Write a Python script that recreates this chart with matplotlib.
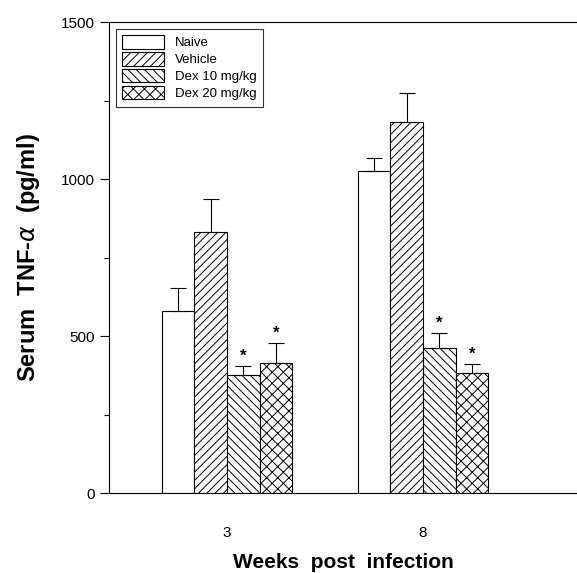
import matplotlib
matplotlib.use('Agg')
import matplotlib.pyplot as plt
import numpy as np

plt.rcParams['font.family'] = ['Liberation Sans', 'DejaVu Sans']
plt.rcParams['hatch.linewidth'] = 0.7

# data
weeks = ['3', '8']
groups = ['Naive', 'Vehicle', 'Dex 10 mg/kg', 'Dex 20 mg/kg']
naive = [580, 1025]
naive_err = [73, 42]
vehicle = [831, 1181]
vehicle_err = [105, 93]
dex10 = [376, 462]
dex10_err = [28, 48]
dex20 = [414, 382]
dex20_err = [64, 29]
# significance markers (True = star)
dex10_sig = [True, True]
dex20_sig = [True, True]

fig = plt.figure(figsize=(5.77, 5.73), dpi=100)
ax = fig.add_axes([0.189, 0.1396, 0.811, 0.822])

x = np.arange(len(weeks))
w = 0.166
hatches = ['', '////', '\\\\\\\\', 'xxx']
series = [(naive, naive_err), (vehicle, vehicle_err), (dex10, dex10_err), (dex20, dex20_err)]
offsets = [-1.5, -0.5, 0.5, 1.5]

for (vals, errs), off, h, name in zip(series, offsets, hatches, groups):
    pos = x + off * w
    ax.bar(pos, vals, w, color='white', edgecolor='black', linewidth=0.8,
           hatch=h, label=name, zorder=2)
    ax.errorbar(pos, vals, yerr=[np.zeros(len(errs)), errs], fmt='none',
                ecolor='black', elinewidth=0.8, capsize=6, capthick=0.8, zorder=3)

for vals, errs, sig, off in [(dex10, dex10_err, dex10_sig, 0.5), (dex20, dex20_err, dex20_sig, 1.5)]:
    for i in range(len(vals)):
        if sig[i]:
            ax.text(x[i] + off * w, vals[i] + errs[i] + 8, '*', ha='center', va='bottom',
                    fontsize=12, fontweight='bold')

ax.set_xlim(-0.602, 1.786)
ax.set_ylim(0, 1500)
ax.set_yticks([0, 500, 1000, 1500])
ax.set_yticks([250, 750, 1250], minor=True)
ax.set_xticks(x)
ax.set_xticklabels(weeks)
ax.tick_params(axis='x', length=0, pad=24, labelsize=11)
ax.tick_params(axis='y', which='major', length=6.5, width=0.8, labelsize=11, pad=4)
ax.tick_params(axis='y', which='minor', length=3.5, width=0.8)

ax.spines['right'].set_visible(False)
for s in ['left', 'top', 'bottom']:
    ax.spines[s].set_linewidth(0.8)

ax.set_ylabel('Serum  TNF-$\\alpha$  (pg/ml)', fontsize=17, fontweight='bold', labelpad=13)
ax.set_xlabel('Weeks  post  infection', fontsize=15, fontweight='bold', labelpad=9)

leg = ax.legend(loc='upper left', bbox_to_anchor=(0.0, 1.0), fontsize=9.5,
                frameon=True, fancybox=False, edgecolor='black', handlelength=3.2,
                handleheight=1.2, borderpad=0.5, labelspacing=0.2, handletextpad=0.8)
leg.get_frame().set_linewidth(0.8)

fig.savefig('out.png', dpi=100)
